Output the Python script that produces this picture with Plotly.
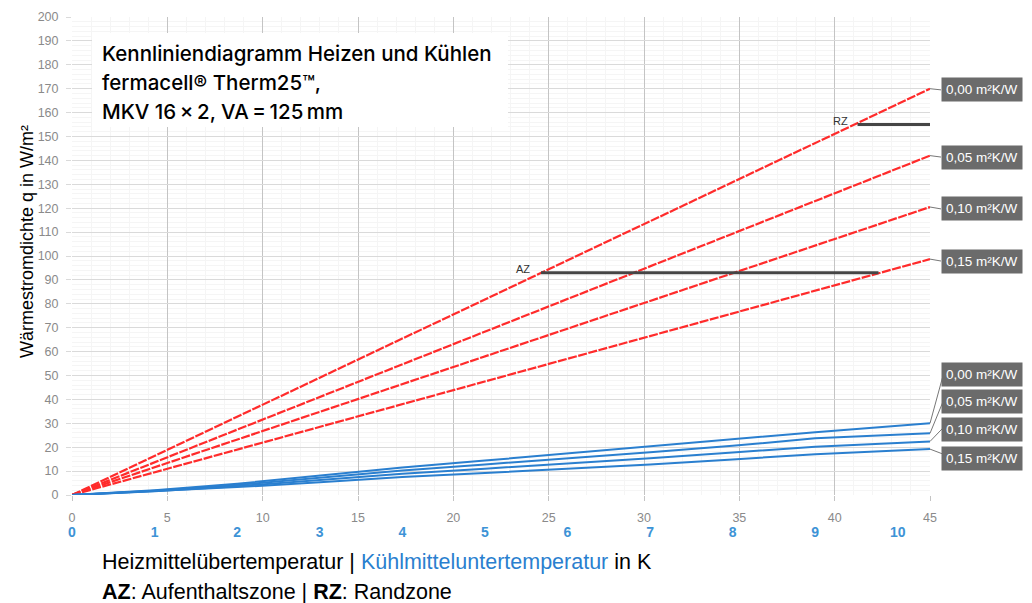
import plotly.graph_objects as go

# Heizen: Heizmittelübertemperatur in K
heat_dt = [0, 5, 10, 15, 20, 25, 30, 35, 40, 45]
heat_r000 = [0, 18.9, 37.8, 56.7, 75.6, 94.4, 113.3, 132.2, 151.1, 170.0]
heat_r005 = [0, 15.8, 31.6, 47.3, 63.1, 78.9, 94.7, 110.4, 126.2, 142.0]
heat_r010 = [0, 13.4, 26.8, 40.2, 53.6, 67.0, 80.3, 93.7, 107.1, 120.5]
heat_r015 = [0, 11.0, 21.9, 32.9, 43.9, 54.8, 65.8, 76.8, 87.7, 98.7]

# Kühlen: Kühlmitteluntertemperatur in K
cool_dt = [0, 1, 2, 3, 4, 5, 6, 7, 8, 9, 10.39]
cool_r000 = [0, 2.0, 4.7, 8.2, 11.5, 14.4, 17.4, 20.4, 23.4, 26.3, 30.0]
cool_r005 = [0, 1.8, 4.2, 7.3, 10.3, 12.8, 15.2, 17.9, 20.6, 23.7, 25.8]
cool_r010 = [0, 1.6, 3.7, 6.3, 8.9, 11.0, 13.1, 15.4, 17.8, 20.2, 22.4]
cool_r015 = [0, 1.5, 3.3, 5.3, 7.5, 9.2, 10.9, 12.8, 14.9, 17.0, 19.2]

labels = ["0,00 m²K/W", "0,05 m²K/W", "0,10 m²K/W", "0,15 m²K/W"]
heat_label_y = [169.5, 141.4, 119.7, 97.9]
cool_label_y = [50.6, 39.0, 27.2, 15.4]

# Aufenthaltszone / Randzone
az_x = [24.6, 42.3]
az_q = [93, 93]
rz_x = [41.2, 45]
rz_q = [155, 155]

RED = "#ff2b2b"
BLUE = "#2a7fcf"
GREY_TXT = "#8a8a8a"
FONT = "Liberation Sans"

# Seite hat 8px Rand im Browser -> Figur etwas kleiner, Plotbereich bleibt gleich
PAGE_OFF = 8
PLOT_L, PLOT_T, PLOT_W, PLOT_H = 72, 17, 858, 478


def px(xp, yp):
    # Seitenpixel -> paper-Koordinaten
    return (xp - PLOT_L) / PLOT_W, (PLOT_T + PLOT_H - yp) / PLOT_H


fig = go.Figure()

heat_series = [heat_r000, heat_r005, heat_r010, heat_r015]
cool_series = [cool_r000, cool_r005, cool_r010, cool_r015]

for q in heat_series:
    fig.add_trace(go.Scatter(x=heat_dt, y=q, mode="lines",
                             line=dict(color=RED, width=2.2, dash="9px,1.5px"),
                             hoverinfo="skip"))

for q in cool_series:
    fig.add_trace(go.Scatter(x=cool_dt, y=q, mode="lines", xaxis="x2",
                             line=dict(color=BLUE, width=2),
                             hoverinfo="skip"))

fig.add_trace(go.Scatter(x=az_x, y=az_q, mode="lines",
                         line=dict(color="#454545", width=3), hoverinfo="skip"))
fig.add_trace(go.Scatter(x=rz_x, y=rz_q, mode="lines",
                         line=dict(color="#454545", width=3), hoverinfo="skip"))

annotations = []
shapes = []

# Zonen-Beschriftung
annotations.append(dict(x=az_x[0] - 0.5, y=az_q[0] + 1.5, xref="x", yref="y", text="AZ",
                        showarrow=False, xanchor="right",
                        font=dict(family=FONT, size=11, color="#333")))
annotations.append(dict(x=rz_x[0] - 0.4, y=rz_q[0] + 1.5, xref="x", yref="y", text="RZ",
                        showarrow=False, xanchor="right",
                        font=dict(family=FONT, size=11, color="#333")))

# Beschriftung rechts (Wärmeleitwiderstand)
box_x = px(941, 0)[0]
for q, ly, lab in zip(heat_series, heat_label_y, labels):
    shapes.append(dict(type="line", xref="paper", yref="y",
                       x0=1.0, y0=q[-1], x1=box_x, y1=ly,
                       line=dict(color="#777", width=1)))
    annotations.append(dict(x=box_x, y=ly, xref="paper", yref="y", text=lab,
                            showarrow=False, xanchor="left", yanchor="middle",
                            bgcolor="#6b6b6b", borderpad=4,
                            font=dict(family=FONT, size=13.5, color="white")))
for q, ly, lab in zip(cool_series, cool_label_y, labels):
    shapes.append(dict(type="line", xref="paper", yref="y",
                       x0=1.0, y0=q[-1], x1=box_x + 0.004, y1=ly + 1.5,
                       line=dict(color="#777", width=1)))
    annotations.append(dict(x=box_x, y=ly, xref="paper", yref="y", text=lab,
                            showarrow=False, xanchor="left", yanchor="middle",
                            bgcolor="#6b6b6b", borderpad=4,
                            font=dict(family=FONT, size=13.5, color="white")))

# Titelkasten
bx0, by0 = px(92, 127)
bx1, by1 = px(508, 33)
shapes.append(dict(type="rect", xref="paper", yref="paper",
                   x0=bx0, x1=bx1, y0=by0, y1=by1,
                   fillcolor="white", line=dict(width=0), layer="above"))
title_lines = ["Kennliniendiagramm Heizen und Kühlen",
               "fermacell® Therm25™,",
               "MKV 16\u2009×\u20092, VA\u2009=\u2009125\u2009mm"]
for i, t in enumerate(title_lines):
    tx, ty = px(100, 54 + i * 28.5)
    annotations.append(dict(x=tx, y=ty, xref="paper", yref="paper",
                            text=t, showarrow=False, xanchor="left", yanchor="middle",
                            font=dict(family="Inter", size=20.5, color="black", weight=500)))

# Achsentitel
tx, ty = px(15, 242)
annotations.append(dict(x=tx, y=ty, xref="paper", yref="paper", text="Wärmestromdichte q in W/m²",
                        showarrow=False, textangle=-90,
                        font=dict(family=FONT, size=18, color="black")))
tx, ty = px(100, 562)
annotations.append(dict(x=tx, y=ty, xref="paper", yref="paper",
                        text="Heizmittelübertemperatur | <span style='color:#2a7fcf'>Kühlmitteluntertemperatur</span> in K",
                        showarrow=False, xanchor="left", yanchor="middle",
                        font=dict(family=FONT, size=21.5, color="black")))
tx, ty = px(100, 592)
annotations.append(dict(x=tx, y=ty, xref="paper", yref="paper",
                        text="<b>AZ</b>: Aufenthaltszone | <b>RZ</b>: Randzone",
                        showarrow=False, xanchor="left", yanchor="middle",
                        font=dict(family=FONT, size=21.5, color="black")))

fig.update_layout(
    width=1032 - PAGE_OFF, height=603 - PAGE_OFF,
    margin=dict(l=PLOT_L - PAGE_OFF, r=1032 - PLOT_L - PLOT_W, t=PLOT_T - PAGE_OFF,
                b=603 - PLOT_T - PLOT_H, autoexpand=False),
    plot_bgcolor="white", paper_bgcolor="white",
    showlegend=False,
    xaxis=dict(range=[0, 45], dtick=5, showgrid=True, gridcolor="#c4c4c4", gridwidth=1,
               zeroline=False, ticks="outside", ticklen=5, tickcolor="#c4c4c4",
               ticklabelstandoff=6,
               tickfont=dict(family=FONT, size=12.5, color=GREY_TXT),
               minor=dict(dtick=1, showgrid=True, gridcolor="#f5f5f5")),
    xaxis2=dict(range=[0, 10.39], dtick=1, overlaying="x", side="bottom", anchor="y",
                showgrid=False, zeroline=False, ticks="", ticklabelstandoff=27,
                tickfont=dict(family=FONT, size=14, color="#3d93d6", weight="bold")),
    yaxis=dict(range=[0, 200], dtick=10, showgrid=True, gridcolor="#dadada", gridwidth=1,
               zeroline=False, ticks="outside", ticklen=5, tickcolor="#dadada",
               ticklabelstandoff=5,
               tickfont=dict(family=FONT, size=12.5, color=GREY_TXT),
               minor=dict(dtick=2, showgrid=True, gridcolor="#f5f5f5")),
    annotations=annotations,
    shapes=shapes,
)

fig.write_html("out.html")
